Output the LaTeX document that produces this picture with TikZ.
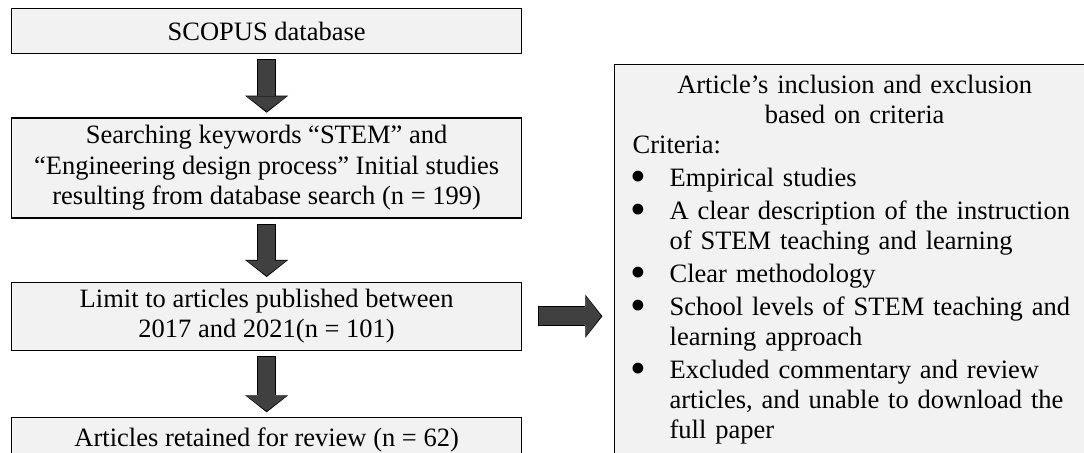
\documentclass[tikz,border=0pt]{standalone}
\usepackage{fontspec}
\setmainfont{Liberation Serif}
\usepackage{graphicx}
\usepackage{tikz}
\usetikzlibrary{arrows.meta,positioning}
\definecolor{boxGray}{HTML}{F2F2F2}
\definecolor{arrowGray}{HTML}{404040}
\newcommand{\critem}[1]{\par\vspace{1.5pt}\hangindent=18.5pt\hangafter=1\noindent
  \makebox[18.5pt][l]{\hspace{-1pt}\raisebox{-2.6pt}{\scalebox{1.7}{\textbullet}}}#1}
\tikzset{
  pbox/.style={draw,line width=0.65pt,fill=boxGray,align=center,inner sep=0pt,
    minimum width=255pt},
  cbox/.style={pbox,align=left,inner xsep=9pt,inner ysep=5pt,text width=222pt,
    minimum width=240pt,font=\fontsize{13.25}{15}\selectfont},
  parrow/.style={draw=arrowGray,line width=8.75pt,shorten <=3pt,shorten >=3pt,
    -{Triangle[width=20pt,length=7.5pt,line width=0pt]},
    preaction={draw=black,line width=9.75pt,shorten <=2.5pt,shorten >=2.3pt,
      -{Triangle[width=21.5pt,length=8.5pt,line width=0pt]}}},
}
\begin{document}
\begin{tikzpicture}[x=0.5pt,y=-0.5pt,font=\fontsize{13.25}{15.25}\selectfont]
\useasboundingbox (0,0) rectangle (1084,453);
\clip (0,0) rectangle (1084,453);
\node[pbox,minimum height=22.5pt,anchor=north west] (scopus) at (11,8) {SCOPUS database};
\node[pbox,minimum height=50pt,below=31.5pt of scopus] (search) {Searching keywords “STEM” and\\“Engineering design process” Initial studies\\resulting from database search (n = 199)};
\node[pbox,minimum height=34pt,below=31.5pt of search] (limit) {Limit to articles published between\\2017 and 2021(n = 101)};
\node[pbox,minimum height=22.5pt,below=33pt of limit] (retain) {Articles retained for review (n = 62)};
\node[cbox,anchor=north west] (crit) at (614,64) {{\centering Article’s inclusion and exclusion\\based on criteria\par}
Criteria:
\critem{Empirical studies}
\critem{A clear description of the instruction of STEM teaching and learning}
\critem{Clear methodology}
\critem{School levels of STEM teaching and learning approach}
\critem{Excluded commentary and review articles, and unable to download the full paper}\par\null};
\draw[parrow] (scopus) -- (search);
\draw[parrow] (search) -- (limit);
\draw[parrow] (limit) -- (retain);
\draw[parrow] ([xshift=5.5pt]limit.east) -- ([xshift=-3.5pt]limit.east -| crit.west);
\end{tikzpicture}
\end{document}
